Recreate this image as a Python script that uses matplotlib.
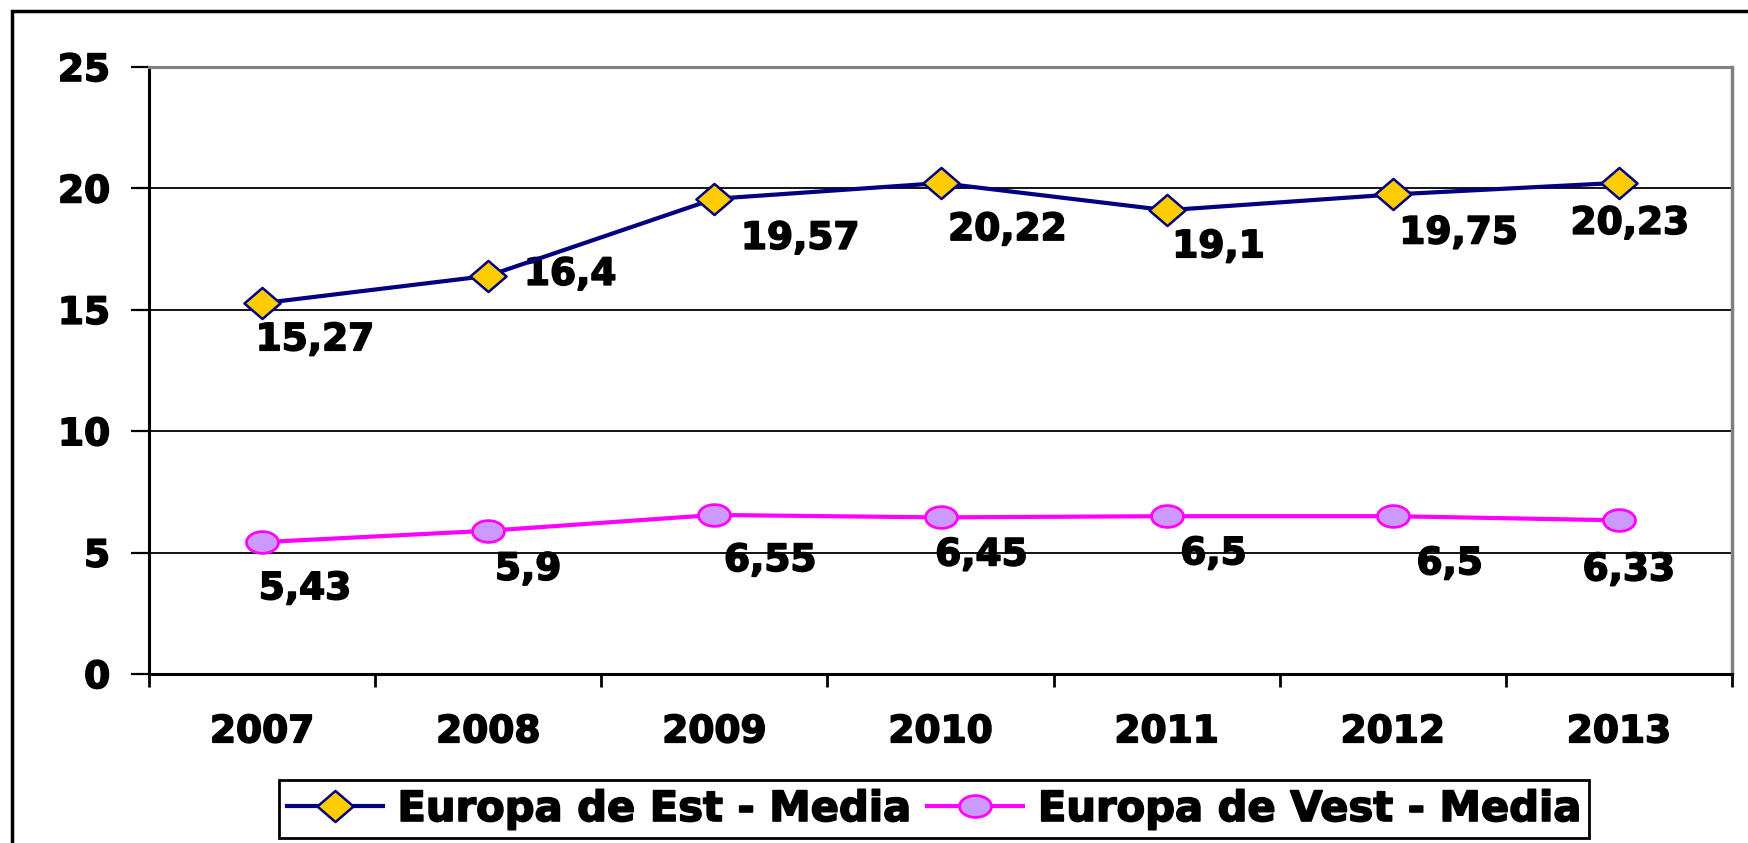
import matplotlib.pyplot as plt
import matplotlib.patheffects as pe
import numpy as np
from matplotlib.path import Path
from matplotlib.patches import Rectangle

years = ["2007", "2008", "2009", "2010", "2011", "2012", "2013"]
est_media = [15.27, 16.4, 19.57, 20.22, 19.1, 19.75, 20.23]
vest_media = [5.43, 5.9, 6.55, 6.45, 6.5, 6.5, 6.33]
est_labels = ["15,27", "16,4", "19,57", "20,22", "19,1", "19,75", "20,23"]
vest_labels = ["5,43", "5,9", "6,55", "6,45", "6,5", "6,5", "6,33"]

# label offsets in pixels (dx, dy) from each point
est_offsets = [(53, -37), (82, 1), (86, -40), (67, -47), (52, -37), (66, -39), (11, -41)]
vest_offsets = [(43, -47), (40, -39), (56, -46), (41, -38), (47, -38), (57, -48), (10, -50)]

plt.rcParams['font.family'] = 'DejaVu Sans'
plt.rcParams['font.weight'] = 'bold'
FS = 27
heavy = [pe.withStroke(linewidth=1.2, foreground='black')]

# stretched diamond and ellipse markers, like the original
diamond = Path([(0, 0.43), (0.5, 0), (0, -0.43), (-0.5, 0), (0, 0.43)],
               [Path.MOVETO, Path.LINETO, Path.LINETO, Path.LINETO, Path.CLOSEPOLY])
t = np.linspace(0, 2 * np.pi, 60)
ellipse = Path(np.column_stack([0.5 * np.cos(t), 0.34 * np.sin(t)]), closed=True)

fig = plt.figure(figsize=(17.48, 8.43), dpi=100)
ax = fig.add_axes([149 / 1748, 1 - 674 / 843, (1732 - 149) / 1748, (674 - 67) / 843])

x = np.arange(len(years))
ax.plot(x, est_media, color='#000080', lw=3, marker=diamond, ms=26,
        mfc='#FFCC00', mec='#000080', mew=1.8, label='Europa de Est - Media', zorder=4)
ax.plot(x, vest_media, color='#FF00FF', lw=3, marker=ellipse, ms=23,
        mfc='#CC99FF', mec='#FF00FF', mew=2, label='Europa de Vest - Media', zorder=4)

for xi, v, lab, off in zip(x, est_media, est_labels, est_offsets):
    ax.annotate(lab, (xi, v), xytext=off, textcoords='offset pixels',
                ha='center', va='center', fontsize=FS, fontweight='bold',
                path_effects=heavy)
for xi, v, lab, off in zip(x, vest_media, vest_labels, vest_offsets):
    ax.annotate(lab, (xi, v), xytext=off, textcoords='offset pixels',
                ha='center', va='center', fontsize=FS, fontweight='bold',
                path_effects=heavy)

ax.set_xlim(-0.5, len(years) - 0.5)
ax.set_ylim(0, 25)
ax.set_yticks([0, 5, 10, 15, 20, 25])
ax.set_xticks(x)
ax.set_xticklabels(years)
ax.set_xticks(np.arange(-0.5, len(years)), minor=True)

for yv in [5, 10, 15, 20]:
    ax.axhline(yv, color='black', lw=1.3, zorder=1)

ax.spines['left'].set_color('black')
ax.spines['left'].set_linewidth(2.2)
ax.spines['bottom'].set_color('black')
ax.spines['bottom'].set_linewidth(2.2)
ax.spines['top'].set_color('#808080')
ax.spines['top'].set_linewidth(2.2)
ax.spines['right'].set_color('#808080')
ax.spines['right'].set_linewidth(2.5)

ax.tick_params(axis='y', direction='out', length=13, width=1.6, pad=15, labelsize=FS)
ax.tick_params(axis='x', which='major', length=0, pad=29, labelsize=FS)
ax.tick_params(axis='x', which='minor', direction='out', length=9, width=2)
for lbl in ax.get_xticklabels() + ax.get_yticklabels():
    lbl.set_fontweight('bold')
    lbl.set_path_effects(heavy)

leg = fig.legend(loc='center', bbox_to_anchor=(934 / 1748, 1 - 809 / 843), ncol=2,
                 fontsize=30, frameon=True, fancybox=False, edgecolor='black',
                 framealpha=1, handlelength=2.3, handletextpad=0.35, columnspacing=0.4,
                 borderpad=0.2, borderaxespad=0)
leg.get_frame().set_linewidth(2)
for txt in leg.get_texts():
    txt.set_fontweight('bold')
    txt.set_path_effects(heavy)

# outer chart frame, running off the right and bottom edges
fig.patches.append(Rectangle((12 / 1748, -0.1), 1.2, 1 - 11 / 843 + 0.1,
                             transform=fig.transFigure, fill=False,
                             edgecolor='black', lw=2.5))

fig.savefig('out.png', dpi=100)
